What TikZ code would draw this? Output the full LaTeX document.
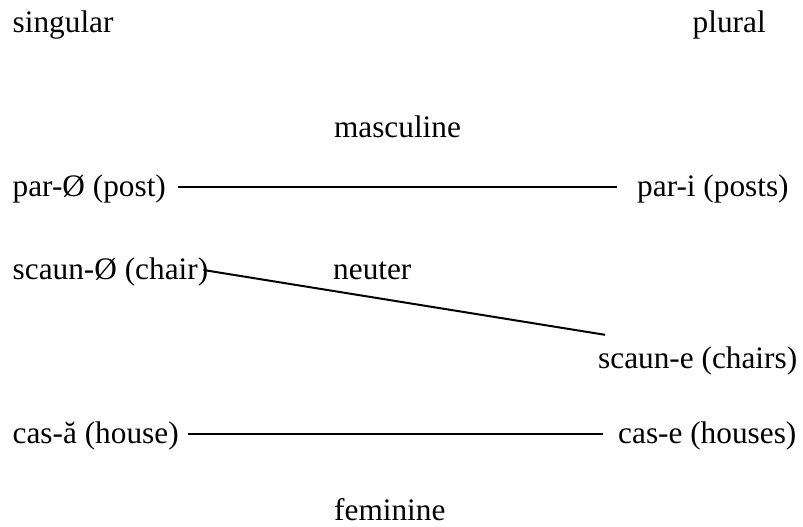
\documentclass[tikz,border=0pt]{standalone}
\usepackage{fontspec}
\setmainfont{Liberation Serif}
\newfontfamily\lbfont{Liberation Serif}
\begin{document}
\begin{tikzpicture}[x=1pt,y=-1pt,
  lbl/.style={inner sep=0pt, text height=18pt, text depth=0pt, anchor=base west,
    font=\lbfont\fontsize{31.3pt}{36pt}\selectfont},
  link/.style={line width=2pt}]
\useasboundingbox (0,0) rectangle (803,527);
\node[lbl] (sg) at (12.5,33) {singular};
\node[lbl] (pl) at (692.5,33) {plural};
\node[lbl,anchor=base] (masc) at (397.5,137) {masculine};
\node[lbl] (par) at (12.5,196) {par-Ø (post)};
\node[lbl] (pari) at (637,196) {par-i (posts)};
\node[lbl] (scaun) at (12.5,279) {scaun-Ø (chair)};
\node[lbl] (neut) at (333,279) {neuter};
\node[lbl] (scaune) at (598,368) {scaun-e (chairs)};
\node[lbl] (casa) at (12.5,443) {cas-ă (house)};
\node[lbl] (case) at (618,443) {cas-e (houses)};
\node[lbl] (fem) at (334,520) {feminine};
\draw[link, shorten <=12pt, shorten >=20pt] (par.east) -- (pari.west);
\draw[link] ([xshift=-5pt]scaun.east) -- ([shift={(7pt,15pt)}]scaune.north west);
\draw[link, shorten <=9.5pt, shorten >=15pt] (casa.east) -- (case.west);
\end{tikzpicture}
\end{document}
